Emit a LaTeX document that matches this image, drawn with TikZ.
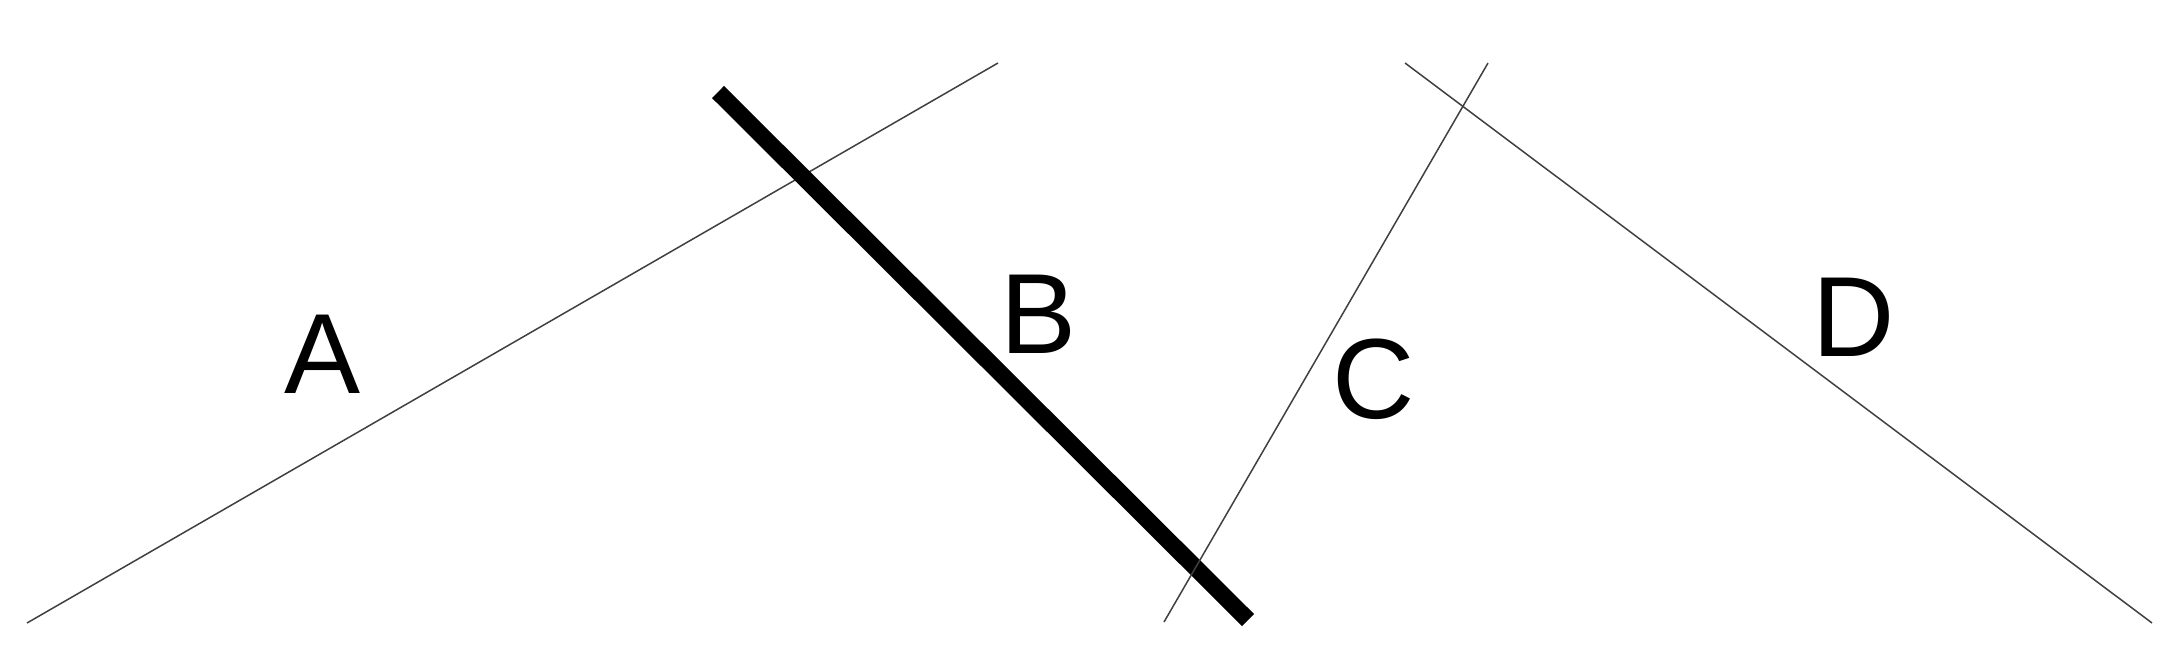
\documentclass[tikz,border=0pt]{standalone}
\usepackage{fontspec}
\setmainfont{Liberation Sans}
\begin{document}
\begin{tikzpicture}[x=1pt,y=-1pt,
  thinline/.style={line width=1.5pt, black!75},
  thickline/.style={line width=17pt, black},
  lbl/.style={font=\fontsize{114}{120}\selectfont, inner sep=0pt, anchor=center}]
\useasboundingbox (0,0) rectangle (2183,670);
\coordinate (a1) at (27,623); \coordinate (a2) at (998,63);
\coordinate (b1) at (718,92); \coordinate (b2) at (1248,620);
\coordinate (c1) at (1164,622); \coordinate (c2) at (1488,63);
\coordinate (d1) at (1405,63); \coordinate (d2) at (2152,623);
\draw[thinline] (a1) -- (a2);
\draw[thickline] (b1) -- (b2);
\draw[thinline] (c1) -- (c2);
\draw[thinline] (d1) -- (d2);
\node[lbl] (la) at (323,354) {A};
\node[lbl] (lb) at (1039,314) {B};
\node[lbl] (lc) at (1374,379) {C};
\node[lbl] (ld) at (1854,317) {D};
\end{tikzpicture}
\end{document}
